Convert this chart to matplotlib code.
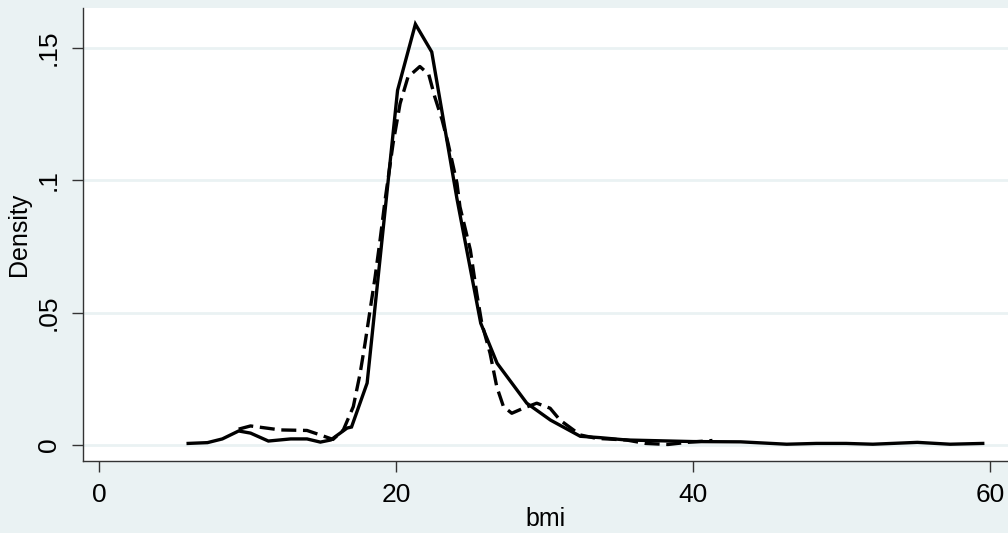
import matplotlib
matplotlib.use("Agg")
from matplotlib import pyplot as plt

# histogram-style density line (solid)
bmi_solid = [6.0, 7.3, 8.3, 9.4, 10.2, 11.4, 12.9, 14.0, 14.9, 15.6, 16.7, 17.0,
             18.05, 20.1, 21.3, 22.4, 24.1, 25.7, 26.8, 28.8, 30.4, 32.4, 33.7,
             35.5, 40.0, 43.2, 46.3, 48.3, 50.3, 52.1, 55.1, 57.3, 59.5]
dens_solid = [0.0006, 0.0009, 0.0023, 0.0053, 0.0045, 0.0015, 0.0023, 0.0023,
              0.0011, 0.0019, 0.0064, 0.0068, 0.0234, 0.134, 0.159, 0.1485,
              0.093, 0.046, 0.0309, 0.0158, 0.0094, 0.0033, 0.0028, 0.0019,
              0.0013, 0.0012, 0.0003, 0.0006, 0.0006, 0.0003, 0.001, 0.0003,
              0.0006]

# kernel density (dashed)
bmi_kd = [9.4, 10.2, 12.2, 14.0, 14.9, 15.75, 16.45, 17.12, 17.58, 17.91, 18.25,
          18.59, 18.92, 19.26, 19.8, 20.27, 20.8, 21.6, 22.2, 22.6, 23.1, 23.5,
          24.1, 24.3, 25.0, 25.43, 25.77, 26.33, 26.78, 27.23, 27.79, 28.57,
          29.47, 30.37, 31.04, 31.94, 32.4, 33.5, 35.5, 36.8, 38.3, 39.6, 41.3]
dens_kd = [0.0060, 0.0072, 0.0057, 0.0055, 0.0038, 0.0021, 0.0057, 0.0145,
           0.0271, 0.0384, 0.051, 0.0636, 0.0774, 0.0926, 0.114, 0.129, 0.139,
           0.143, 0.140, 0.1316, 0.1228, 0.114, 0.0989, 0.090, 0.0737, 0.0573,
           0.046, 0.0346, 0.022, 0.0145, 0.012, 0.0139, 0.0158, 0.0139, 0.0094,
           0.0057, 0.0038, 0.0025, 0.0019, 0.0006, 0.0002, 0.001, 0.0017]

x_ticks = [0, 20, 40, 60]
y_ticks = [0, 0.05, 0.1, 0.15]
y_labels = ["0", ".05", ".1", ".15"]

bg = "#EAF2F3"
plt.rcParams["font.family"] = ["Liberation Sans", "DejaVu Sans"]

fig = plt.figure(figsize=(10.08, 5.33), dpi=100, facecolor=bg)
ax = fig.add_axes([83 / 1008, 1 - 461 / 533, 1 - 83 / 1008, (461 - 8) / 533])
ax.set_facecolor("white")

ax.plot(bmi_solid, dens_solid, color="black", lw=2.4, solid_joinstyle="miter")
ax.plot(bmi_kd, dens_kd, color="black", lw=2.4, dashes=(4.5, 2))

ax.set_xlim(-1.08, 61.2)
ax.set_ylim(-0.00604, 0.1651)
ax.set_xticks(x_ticks)
ax.set_yticks(y_ticks)
ax.set_yticklabels(y_labels, rotation=90, va="center")
for t in y_ticks:
    ax.axhline(t, color=bg, lw=2, zorder=0)

ax.tick_params(axis="both", direction="out", length=8, width=1, color="#333333",
               labelsize=19, pad=8)
ax.tick_params(axis="x", pad=8)
for side in ["top", "right"]:
    ax.spines[side].set_visible(False)
for side in ["left", "bottom"]:
    ax.spines[side].set_color("#333333")
    ax.spines[side].set_linewidth(1)

ax.set_xlabel("bmi", fontsize=18, labelpad=0)
ax.set_ylabel("Density", fontsize=18, labelpad=4)

fig.savefig("out.png", dpi=100, facecolor=bg)
